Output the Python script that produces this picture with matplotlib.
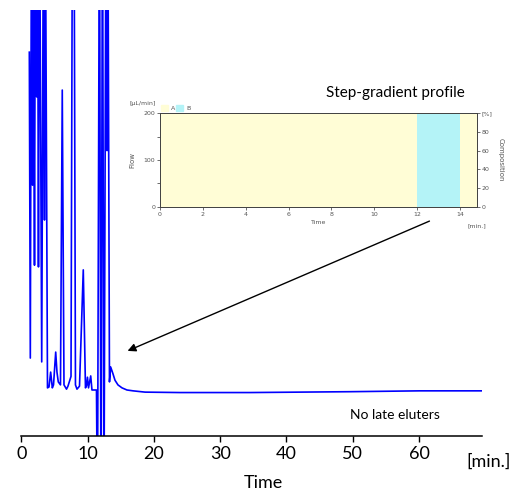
import matplotlib
matplotlib.use("Agg")
import matplotlib.pyplot as plt

plt.rcParams['font.family'] = ['Lato', 'DejaVu Sans']

# chromatogram trace (time in min, signal in % of full scale)
trace_time = [1.21, 1.36, 1.54, 1.69, 1.81, 1.99, 2.14, 2.32, 2.44, 2.59, 2.75,
              3.08, 3.35, 3.50, 3.62, 3.95, 4.18, 4.43, 4.68, 4.86, 5.19, 5.38,
              5.58, 5.91, 6.18, 6.44, 6.82, 7.04, 7.50, 7.72, 7.95, 8.17, 8.40,
              8.78, 9.35, 9.68, 9.83, 9.98, 10.14, 10.47, 10.66, 11.34, 11.49,
              11.79, 12.02, 12.25, 12.47, 12.78, 12.93, 13.05, 13.30, 13.48,
              13.83, 14.13, 14.58, 15.19, 15.94, 16.86, 18.66, 23.94, 34.5,
              42.0, 49.6, 60.1, 70.7]
trace_signal = [90.1, 18.3, 130, 58.9, 130, 40.1, 130, 79.6, 130, 39.7, 130,
                17.4, 130, 50.7, 130, 11.3, 11.5, 15.0, 11.3, 12.0, 19.7, 15.0,
                12.7, 12.0, 81.2, 12.0, 11.0, 11.7, 14.0, 130, 130, 12.0, 11.0,
                11.7, 39.0, 11.3, 11.8, 13.8, 11.3, 14.1, 10.8, 10.8, -20,
                130, -20, 130, -20, 130, 67.0, 130, 12.7, 16.2,
                14.6, 13.1, 12.0, 11.3, 10.8, 10.6, 10.3, 10.2, 10.2,
                10.3, 10.4, 10.6, 10.6]
main_ticks = [0, 10, 20, 30, 40, 50, 60]

# step-gradient profile (inset)
grad_time = [0, 12, 14, 14.8]
grad_b = [0, 100, 0, 0]
flow_ticks = [0, 100, 200]
comp_ticks = [0, 20, 40, 60, 80, 100]
comp_labels = ['0', '20', '40', '60', '80', '[%]']
inset_ticks = [0, 2, 4, 6, 8, 10, 12, 14]

W, H = 516, 492
fig = plt.figure(figsize=(W / 100, H / 100), dpi=100)

ax = fig.add_axes([21.3 / W, 1 - 436 / H, (482 - 21.3) / W, 426 / H])
ax.plot(trace_time, trace_signal, color='#0000ff', lw=1.2)
ax.set_xlim(0, 69.5)
ax.set_ylim(0, 100)
for s in ['left', 'right', 'top']:
    ax.spines[s].set_visible(False)
ax.spines['bottom'].set_linewidth(1.1)
ax.set_yticks([])
ax.set_xticks(main_ticks)
ax.tick_params(axis='x', direction='out', length=4, width=1, labelsize=13, pad=3)
ax.set_facecolor('none')

fig.text(466 / W, 1 - 462 / H, '[min.]', fontsize=13, ha='left', va='center')
fig.text(263 / W, 1 - 483 / H, 'Time', fontsize=13, ha='center', va='center')
fig.text(395 / W, 1 - 415 / H, 'No late eluters', fontsize=10, ha='center', va='center')
fig.text(395 / W, 1 - 93 / H, 'Step-gradient profile', fontsize=11, ha='center', va='center')

# inset
gray = '#555555'
ins = fig.add_axes([160 / W, 1 - 207 / H, (477 - 160) / W, 94 / H])
ins.set_xlim(0, 14.8)
ins.set_ylim(0, 200)
ins.set_yticks(flow_ticks)
ins.set_yticks([50, 150], minor=True)
ins.set_xticks(inset_ticks)
ins.tick_params(which='both', labelsize=4.5, colors=gray, length=2, width=0.6, pad=1.5)
ins.set_xlabel('Time', fontsize=4.5, color=gray, family='DejaVu Sans', labelpad=2)
ins.set_ylabel('Flow', fontsize=5, color=gray, family='DejaVu Sans', labelpad=6)
for lab in ins.get_xticklabels() + ins.get_yticklabels():
    lab.set_family('DejaVu Sans')

comp = ins.twinx()
comp.set_ylim(0, 100)
grad_a = [100 - b for b in grad_b]
comp.fill_between(grad_time, 0, grad_a, step='post', color='#fffdd6', lw=0)
comp.fill_between(grad_time, grad_a, 100, step='post', color='#b4f3f7', lw=0)
comp.set_yticks(comp_ticks)
comp.set_yticklabels(comp_labels)
comp.tick_params(labelsize=4.5, colors=gray, length=2, width=0.6, pad=1.5)
for lab in comp.get_yticklabels():
    lab.set_family('DejaVu Sans')
comp.set_ylabel('Composition', fontsize=5, color=gray, rotation=-90,
                family='DejaVu Sans', labelpad=8)
for a in (ins, comp):
    for s in a.spines.values():
        s.set_color('#444444')
        s.set_linewidth(0.7)
ins.set_zorder(comp.get_zorder() + 1)
ins.patch.set_visible(False)

fig.text(143 / W, 1 - 103 / H, '[µL/min]', fontsize=4.5, color=gray,
         family='DejaVu Sans', ha='center', va='center')
fig.text(477 / W, 1 - 226 / H, '[min.]', fontsize=4.5, color=gray,
         family='DejaVu Sans', ha='center', va='center')
fig.patches.append(plt.Rectangle((161 / W, 1 - 111 / H), 7 / W, 6 / H,
                                 transform=fig.transFigure, color='#fffdd6'))
fig.text(171 / W, 1 - 108 / H, 'A', fontsize=4.5, color=gray,
         family='DejaVu Sans', va='center')
fig.patches.append(plt.Rectangle((176 / W, 1 - 111 / H), 7 / W, 6 / H,
                                 transform=fig.transFigure, color='#b4f3f7'))
fig.text(186 / W, 1 - 108 / H, 'B', fontsize=4.5, color=gray,
         family='DejaVu Sans', va='center')

fig.add_artist(matplotlib.patches.FancyArrowPatch(
    (432 / W, 1 - 220 / H), (125 / W, 1 - 352 / H), transform=fig.transFigure,
    arrowstyle='-|>', mutation_scale=12, color='black', lw=1))

fig.savefig('out.png', dpi=100)
